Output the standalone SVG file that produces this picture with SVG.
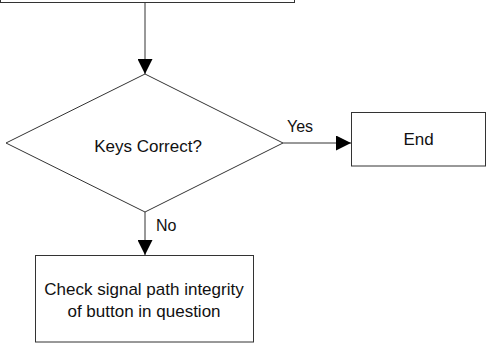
<svg xmlns="http://www.w3.org/2000/svg" width="486" height="343" viewBox="0 0 486 343">
<defs>
<style>
.s{fill:#fff;stroke:#333;stroke-width:1}
.c{fill:none;stroke:#333;stroke-width:1}
.t{font-family:"Liberation Sans",Arial,sans-serif;font-size:17px;fill:#111;text-anchor:middle}
.l{font-family:"Liberation Sans",Arial,sans-serif;font-size:16px;fill:#111}
</style>
<marker id="ah" markerWidth="15" markerHeight="15" refX="15" refY="7.5" orient="auto" markerUnits="userSpaceOnUse">
<path d="M0,0 L15,7.5 L0,15 Z" fill="#000"/>
</marker>
</defs>
<g id="start"><rect class="s" x="0.5" y="-40" width="294" height="42.5"/></g>
<g id="decision">
<polygon class="s" points="145,74 283,143 145,212 6,143"/>
<text class="t" x="148" y="152">Keys Correct?</text>
</g>
<g id="end">
<rect class="s" x="351.5" y="112.5" width="134" height="53.5"/>
<text class="t" x="418.5" y="145">End</text>
</g>
<g id="check">
<rect class="s" x="35.5" y="255.5" width="218" height="86.5"/>
<text class="t" x="144" y="295">Check signal path integrity</text>
<text class="t" x="144" y="317">of button in question</text>
</g>
<g id="connectors">
<line class="c" x1="145" y1="2.5" x2="145" y2="74" marker-end="url(#ah)"/>
<line class="c" x1="283" y1="143" x2="351" y2="143" marker-end="url(#ah)"/>
<line class="c" x1="145" y1="212" x2="145" y2="255" marker-end="url(#ah)"/>
<text class="l" x="287" y="132">Yes</text>
<text class="l" x="156" y="231">No</text>
</g>
</svg>
